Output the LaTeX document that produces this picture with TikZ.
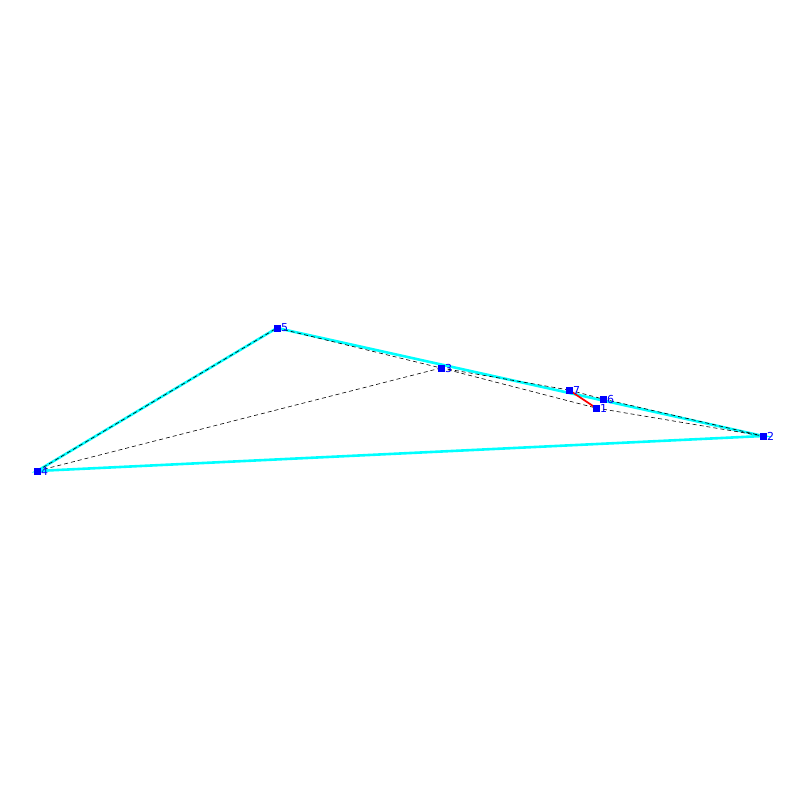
\documentclass[tikz,border=0pt]{standalone}
\usepackage{fontspec}
\setmainfont{DejaVu Sans}
\begin{document}
\begin{tikzpicture}[x=1pt,y=-1pt,
  pt/.style={fill=blue,draw=none,minimum size=7pt,inner sep=0pt,rectangle},
  lab/.style={text=blue,font=\fontsize{11}{11}\selectfont,inner sep=0pt,anchor=west},
  hull/.style={color={rgb,255:red,0;green,255;blue,255},line width=2.6pt},
  tri/.style={black,line width=0.6pt,dash pattern=on 4pt off 3pt},
  redl/.style={red,line width=1.8pt}]
\useasboundingbox (0,0) rectangle (800,800);
\coordinate (p1) at (596,408);
\coordinate (p2) at (763,436);
\coordinate (p3) at (441,368);
\coordinate (p4) at (37,471);
\coordinate (p5) at (277,328);
\coordinate (p6) at (603,399);
\coordinate (p7) at (569,390);
\draw[hull] (p4) -- (p5) -- (p2) -- cycle;
\draw[tri] (p4) -- (p5);
\draw[tri] (p5) -- (p3);
\draw[tri] (p4) -- (p3);
\draw[tri] (p3) -- (p7);
\draw[tri] (p3) -- (p1);
\draw[tri] (p7) -- (p6);
\draw[tri] (p6) -- (p2);
\draw[tri] (p1) -- (p2);
\draw[redl] (p7) -- (p1);
\foreach \i in {1,...,7} {
  \node[pt] (n\i) at (p\i) {};
  \node[lab] (l\i) at ([xshift=4pt]p\i) {\i};
}
\end{tikzpicture}
\end{document}
